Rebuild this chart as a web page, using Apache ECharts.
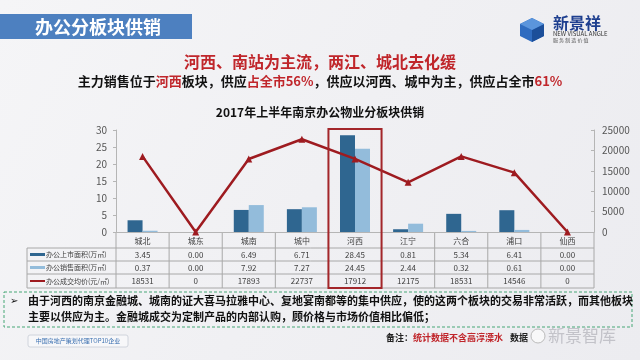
<!DOCTYPE html>
<html><head><meta charset="utf-8">
<script src="https://cdn.jsdelivr.net/npm/echarts@6/dist/echarts.min.js"></script>
<style>html,body{margin:0;padding:0;background:#fff;}#c{width:640px;height:360px;}</style>
</head><body><div id="c"></div>
<script>
// ---- data ----
const categories = ['城北','城东','城南','城中','河西','江宁','六合','浦口','仙西'];
const listedArea = [3.45, 0.00, 6.49, 6.71, 28.45, 0.81, 5.34, 6.41, 0.00];
const soldArea   = [0.37, 0.00, 7.92, 7.27, 24.45, 2.44, 0.32, 0.61, 0.00];
const avgPrice   = [18531, 0, 17893, 22737, 17912, 12175, 18531, 14546, 0];
const seriesNames = ['办公上市面积(万㎡)', '办公销售面积(万㎡)', '办公成交均价(元/㎡)'];
const leftAxisRange = [0, 30, 5];
const rightAxisRange = [0, 25000, 5000];
const highlightCategory = '河西';

const FONT = '"Noto Sans CJK SC", "Noto Sans", sans-serif';
const C_DARK = '#2f6690', C_LIGHT = '#93bcdb', C_RED = '#9e1b20';

const chart = echarts.init(document.getElementById('c'));
const option = {
  animation: false,
  backgroundColor: {type:'linear', x:0, y:0, x2:1, y2:1, colorStops:[{offset:0,color:'#f5f5f7'},{offset:0.5,color:'#f0f0f3'},{offset:1,color:'#ececf0'}]},
  textStyle: {fontFamily: FONT},
  title: [
    {text: '2017年上半年南京办公物业分板块供销', left: 'center', top: 101,
     textStyle: {fontSize: 12, fontWeight: 'bold', color: '#111', fontFamily: FONT}}
  ],
  grid: {left: 116, right: 46, top: 130, bottom: 128, containLabel: false},
  xAxis: {
    type: 'category', data: categories,
    axisLine: {lineStyle: {color: '#b5b5b5'}},
    axisTick: {show: false},
    axisLabel: {fontSize: 8, color: '#404040', margin: 5, fontFamily: FONT}
  },
  yAxis: [
    {type: 'value', min: leftAxisRange[0], max: leftAxisRange[1], interval: leftAxisRange[2],
     splitLine: {show: false},
     axisLine: {show: true, lineStyle: {color: '#b5b5b5'}},
     axisTick: {show: true, length: 3, lineStyle: {color: '#b5b5b5'}},
     axisLabel: {fontSize: 10, color: '#555', margin: 9}},
    {type: 'value', min: rightAxisRange[0], max: rightAxisRange[1], interval: rightAxisRange[2],
     position: 'right', splitLine: {show: false},
     axisLine: {show: true, lineStyle: {color: '#b5b5b5'}},
     axisTick: {show: true, inside: true, length: 3, lineStyle: {color: '#b5b5b5'}},
     axisLabel: {fontSize: 10, color: '#555', margin: 8, formatter: v => String(v)}}
  ],
  series: [
    {name: seriesNames[0], type: 'bar', data: listedArea, barWidth: 15, barGap: '0%',
     itemStyle: {color: C_DARK}},
    {name: seriesNames[1], type: 'bar', data: soldArea, barWidth: 15, barGap: '0%',
     itemStyle: {color: C_LIGHT}},
    {name: seriesNames[2], type: 'line', yAxisIndex: 1, data: avgPrice,
     symbol: 'triangle', symbolSize: 7, lineStyle: {width: 2.5, color: C_RED},
     itemStyle: {color: C_RED}, z: 5}
  ]
};
chart.setOption(option);

// ---- table, frame & slide decorations built from the axis ----
const xs = categories.map(c => chart.convertToPixel({xAxisIndex: 0}, c));
const band = xs[1] - xs[0];
const xL = xs[0] - band / 2, xR = xs[xs.length - 1] + band / 2;
const yAxisPix = chart.convertToPixel({yAxisIndex: 0}, 0);
const yTopPix = chart.convertToPixel({yAxisIndex: 0}, leftAxisRange[1]);
const tabLeft = 27;
const rowLines = [yAxisPix + 16, yAxisPix + 29, yAxisPix + 42, yAxisPix + 56];
const lineCol = '#a8a8a8';
const g = [];
rowLines.forEach(y => g.push({type:'line', shape:{x1:tabLeft, y1:y, x2:xR, y2:y}, style:{stroke:lineCol, lineWidth:1}}));
g.push({type:'line', shape:{x1:tabLeft, y1:rowLines[0], x2:tabLeft, y2:rowLines[3]}, style:{stroke:lineCol, lineWidth:1}});
for (let i = 0; i <= categories.length; i++) {
  const x = xL + i * band;
  g.push({type:'line', shape:{x1:x, y1:yAxisPix, x2:x, y2:rowLines[3]}, style:{stroke:lineCol, lineWidth:1}});
}
const rows = [listedArea.map(v => v.toFixed(2)), soldArea.map(v => v.toFixed(2)), avgPrice.map(v => String(v))];
rows.forEach((r, ri) => {
  const yc = (rowLines[ri] + rowLines[ri + 1]) / 2;
  r.forEach((t, i) => g.push({type:'text', x: xs[i], y: yc, style:{text:t, fontSize:8, fill:'#404040', align:'center', verticalAlign:'middle', fontFamily: FONT}}));
  g.push({type:'text', x: 46, y: yc, style:{text: seriesNames[ri], fontSize:7, fill:'#404040', verticalAlign:'middle', fontFamily: FONT}});
});
g.push({type:'rect', shape:{x:30, y:(rowLines[0]+rowLines[1])/2-1.5, width:15, height:3}, style:{fill:C_DARK}});
g.push({type:'rect', shape:{x:30, y:(rowLines[1]+rowLines[2])/2-1.5, width:15, height:3}, style:{fill:C_LIGHT}});
g.push({type:'line', shape:{x1:30, y1:(rowLines[2]+rowLines[3])/2, x2:45, y2:(rowLines[2]+rowLines[3])/2}, style:{stroke:C_RED, lineWidth:2}});
const hi = categories.indexOf(highlightCategory);
g.push({type:'rect', z: 50, shape:{x: xs[hi]-band/2, y: yTopPix - 1, width: band, height: rowLines[3] - yTopPix + 1}, style:{fill:'none', stroke:'#a3262a', lineWidth:2}});

// title bar
g.push({type:'rect', shape:{x:0, y:14, width:192, height:25}, style:{fill:'#4d80c0'}});
g.push({type:'text', x:35, y:27, style:{text:'办公分板块供销', fontSize:18, fontWeight:'bold', fill:'#fff', verticalAlign:'middle', fontFamily: FONT}});
// logo
g.push({type:'polygon', shape:{points:[[520,24],[532,18],[544,24],[544,36],[532,42],[520,36]]}, style:{fill:'#2f6cc0'}});
g.push({type:'polygon', shape:{points:[[532,30],[544,24],[544,36],[532,42]]}, style:{fill:'#1c4f9a'}});
g.push({type:'polygon', shape:{points:[[520,24],[532,18],[544,24],[532,30]]}, style:{fill:'#5b95dc'}});
g.push({type:'text', x:553, y:15, style:{text:'新景祥', fontSize:16, fontWeight:'bold', fill:'#1e3f8f', fontFamily: FONT}});
g.push({type:'text', x:553, y:31, style:{text:'NEW VISUAL ANGLE', fontSize:6, fill:'#333', fontFamily: FONT}});
g.push({type:'text', x:553, y:38, style:{text:'服 务 制 造 价 值', fontSize:5, fill:'#555', fontFamily: FONT}});
// headline and subtitle
g.push({type:'text', x:320, y:62, style:{text:'河西、南站为主流，两江、城北去化缓', fontSize:16, fontWeight:'bold', fill:'#c0262b', align:'center', verticalAlign:'middle', fontFamily: FONT}});
g.push({type:'text', x:320, y:81, style:{
  text:'{k|主力销售位于}{r|河西}{k|板块，供应}{r|占全市56%}{k|，供应以河西、城中为主，供应占全市}{r|61%}',
  align:'center', verticalAlign:'middle', fontFamily: FONT,
  rich:{k:{fontSize:13, fontWeight:'bold', fill:'#111', fontFamily: FONT}, r:{fontSize:13, fontWeight:'bold', fill:'#c0262b', fontFamily: FONT}}}});
// note box
g.push({type:'rect', shape:{x:4, y:292, width:628, height:35}, style:{fill:'none', stroke:'#46a777', lineWidth:1, lineDash:[3,2]}});
g.push({type:'text', x:10, y:301, style:{text:'➢', fontSize:10, fill:'#111', verticalAlign:'middle', fontFamily: '"DejaVu Sans"'}});
g.push({type:'text', x:28, y:301, style:{text:'由于河西的南京金融城、城南的证大喜马拉雅中心、复地宴南都等的集中供应，使的这两个板块的交易非常活跃，而其他板块', fontSize:11, fontWeight:'bold', fill:'#111', verticalAlign:'middle', fontFamily: FONT}});
g.push({type:'text', x:28, y:317, style:{text:'主要以供应为主。金融城成交为定制产品的内部认购，顾价格与市场价值相比偏低；', fontSize:11, fontWeight:'bold', fill:'#111', verticalAlign:'middle', fontFamily: FONT}});
// footer
g.push({type:'rect', shape:{x:28, y:335, width:100, height:12, r:2}, style:{fill:'#f7f7f9', stroke:'#d0d4dc', lineWidth:1}});
g.push({type:'text', x:78, y:341, style:{text:'中国房地产策划代理TOP10企业', fontSize:6, fill:'#3a6fb0', align:'center', verticalAlign:'middle', fontFamily: FONT}});
g.push({type:'text', x:386, y:338, style:{text:'{k|备注：}{r|统计数据不含高淳溧水}', verticalAlign:'middle', fontFamily: FONT,
  rich:{k:{fontSize:9, fontWeight:'bold', fill:'#222', fontFamily: FONT}, r:{fontSize:9, fontWeight:'bold', fill:'#c0262b', fontFamily: FONT}}}});
g.push({type:'text', x:510, y:338, style:{text:'数据', fontSize:9, fontWeight:'bold', fill:'#222', verticalAlign:'middle', fontFamily: FONT}});
g.push({type:'circle', shape:{cx:538, cy:336, r:7}, style:{fill:'rgba(255,255,255,0.6)', stroke:'#bbb', lineWidth:1}});
g.push({type:'text', x:548, y:336, style:{text:'新景智库', fontSize:17, fill:'rgba(190,190,196,0.9)', verticalAlign:'middle', fontFamily: FONT}});

chart.setOption({graphic: g});
</script>
</body></html>
